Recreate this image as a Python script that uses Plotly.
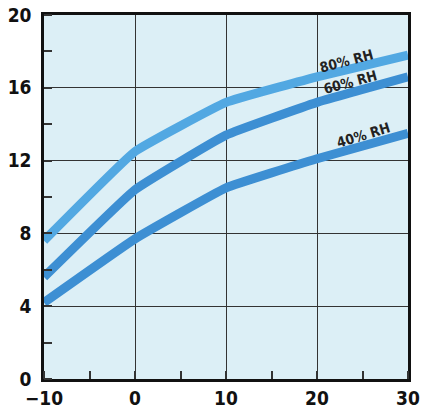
import plotly.graph_objects as go

temps = [-10, 0, 10, 20, 30]
rh80 = [7.6, 12.5, 15.2, 16.6, 17.8]
rh60 = [5.6, 10.4, 13.4, 15.2, 16.6]
rh40 = [4.2, 7.7, 10.5, 12.1, 13.5]
x_ticks = [-10, 0, 10, 20, 30]
x_tick_labels = ["\u221210", "0", "10", "20", "30"]
y_ticks = [0, 4, 8, 12, 16, 20]

fig = go.Figure()
for ys, col in [(rh40, "#3D8FD3"), (rh60, "#3D8FD3"), (rh80, "#52A8E2")]:
    fig.add_trace(go.Scatter(x=temps, y=ys, mode="lines",
                             line=dict(color=col, width=9, shape="spline", smoothing=0.3),
                             showlegend=False))

font = dict(family="DejaVu Sans Condensed, Liberation Sans Narrow, sans-serif",
            size=19, color="#111", weight="bold")
fig.update_layout(
    width=428, height=407,
    margin=dict(l=44, r=20, t=15, b=28),
    paper_bgcolor="white", plot_bgcolor="#DCEFF6",
    xaxis=dict(range=[-10, 30], tickvals=x_ticks, ticktext=x_tick_labels,
               automargin=False, ticklabelstandoff=0,
               showgrid=True, gridcolor="#333", gridwidth=1, zeroline=False,
               showline=True, linecolor="#111", linewidth=2.5, mirror=True,
               ticks="", tickfont=font,
               minor=dict(dtick=5, tick0=0, ticks="inside", ticklen=8,
                          tickcolor="#333", tickwidth=1.5, showgrid=False)),
    yaxis=dict(range=[0, 20], tickvals=y_ticks,
               automargin=False, ticklabelstandoff=6,
               showgrid=True, gridcolor="#333", gridwidth=1, zeroline=False,
               showline=True, linecolor="#111", linewidth=2.5, mirror=True,
               ticks="", tickfont=font,
               minor=dict(dtick=2, tick0=0, ticks="inside", ticklen=8,
                          tickcolor="#333", tickwidth=1.5, showgrid=False)),
)

lab_font = dict(family="DejaVu Sans Condensed, Liberation Sans Narrow, sans-serif",
                size=14, color="#222", weight="bold")
for txt, x, y, ang in [("80% RH", 23.2, 17.5, -15), ("60% RH", 23.7, 16.3, -15), ("40% RH", 25.1, 13.4, -17)]:
    fig.add_annotation(x=x, y=y, text=txt, showarrow=False,
                       textangle=ang, font=lab_font)

fig.write_html("out.html", config={"displayModeBar": False},
               post_script="document.body.style.margin='0';document.body.style.overflow='hidden';")
